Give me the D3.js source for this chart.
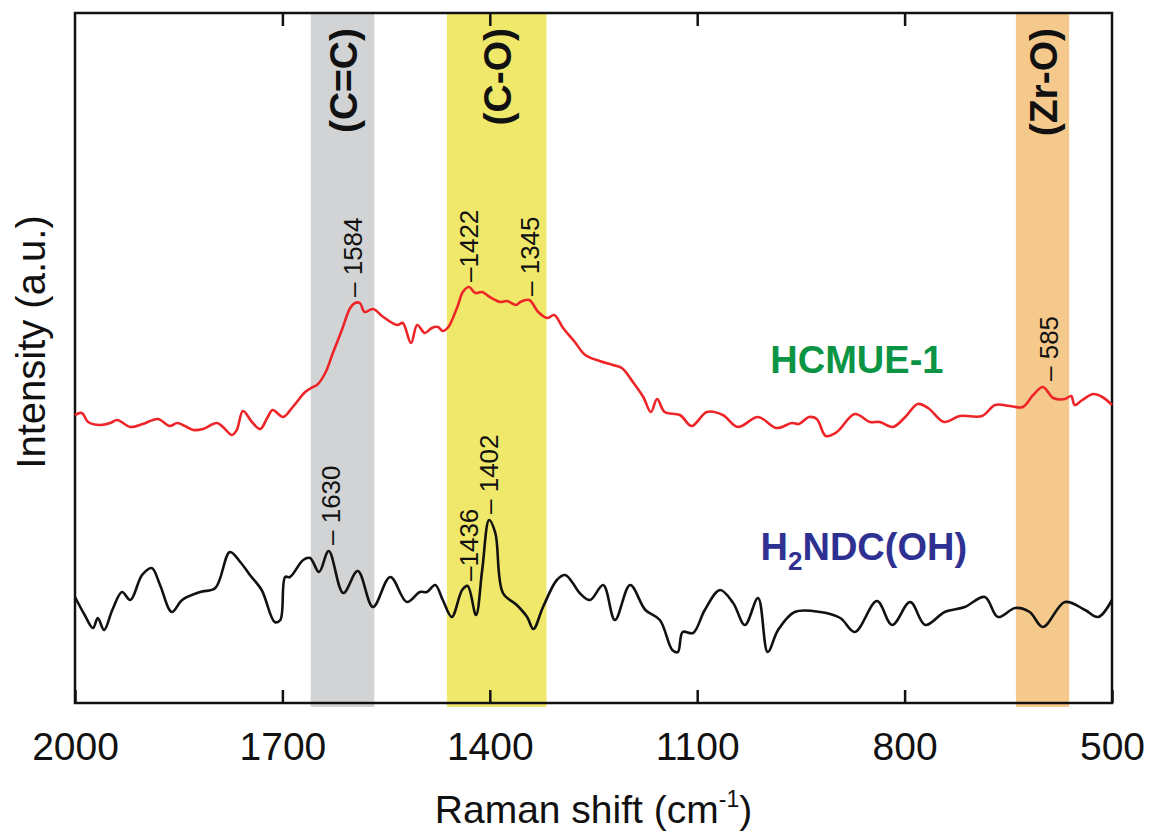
<!DOCTYPE html>
<html><head><meta charset="utf-8">
<script src="https://cdn.jsdelivr.net/npm/d3@7"></script>
<style>
body{margin:0;background:#fff}
svg{display:block}
text{font-family:"Liberation Sans",Arial,Helvetica,sans-serif}
</style>
</head><body>
<svg id="chart" width="1150" height="832"></svg>
<script>
// ---------------- data ----------------
const xTickValues = [2000, 1700, 1400, 1100, 800, 500];
const xLabel = "Raman shift (cm";
const yLabel = "Intensity (a.u.)";

// HCMUE-1 (red) spectrum: Raman shift (cm-1) and intensity (a.u.)
const redShift = [2000,1990,1981,1964,1949,1939,1920,1902,1880,1863,1852,1829,1815,1795,1786,1773,1766,1757,1744,1732,1722,1714,1699,1685,1667,1656,1650,1638,1627,1614,1602,1595,1588,1581,1569,1554,1534,1526,1514,1505,1494,1484,1475,1468,1460,1447,1439,1430,1421,1411,1400,1385,1375,1362,1356,1343,1330,1317,1307,1294,1277,1262,1241,1222,1209,1193,1178,1167,1158,1147,1125,1108,1086,1063,1041,1012,985,963,953,938,927,914,898,872,850,836,817,799,781,766,743,720,688,669,648,629,614,600,585,568,559,554,543,527,514,500];
const redInt   = [288,290,281,278,280,283,276,279,284,277,280,273,274,280,276,268,273,292,281,274,285,293,286,296,311,316,318,330,350,373,395,400,400,391,394,386,378,380,360,378,370,375,376,372,376,396,411,416,410,411,406,401,402,398,401,403,391,385,388,375,361,348,342,338,335,321,306,291,304,291,288,277,291,288,276,286,275,280,279,286,284,267,271,289,281,281,276,286,299,295,281,287,287,298,297,296,308,316,305,304,307,298,303,309,306,298];

// H2NDC(OH) (black) spectrum
const blackShift = [2000,1986,1974,1967,1958,1946,1932,1920,1903,1889,1877,1860,1845,1819,1797,1776,1761,1747,1730,1711,1703,1696,1689,1670,1660,1647,1633,1612,1591,1569,1544,1520,1501,1491,1479,1468,1455,1440,1432,1420,1411,1401,1392,1381,1361,1346,1337,1323,1303,1291,1280,1270,1255,1236,1219,1197,1175,1154,1136,1128,1121,1106,1089,1067,1048,1031,1012,998,983,959,922,893,872,840,818,792,770,742,713,684,665,640,619,600,568,539,520,500];
const blackInt   = [106,88,75,85,73,93,111,103,128,135,118,91,103,111,115,151,141,128,113,81,83,126,126,143,145,131,152,110,132,96,126,101,111,111,118,103,86,113,117,88,133,183,170,110,98,86,74,96,123,128,120,110,103,118,83,118,93,83,53,51,71,70,93,113,100,78,105,51,73,91,91,85,71,102,78,101,78,91,96,106,86,95,91,76,101,93,86,103];

// shaded assignment bands (Raman shift ranges)
const bandNames = ["(C=C)", "(C-O)", "(Zr-O)"];
const bandFrom  = [1659, 1462, 639];
const bandTo    = [1567, 1318, 562];

// peak annotations: text, shift position, intensity where the label starts
const peakText  = ["– 1584", "–1422", "– 1345", "– 585", "– 1630", "–1436", "– 1402"];
const peakShift = [1598, 1431, 1342, 592, 1630, 1431, 1401];
const peakBase  = [406, 421, 407, 322, 158, 122, 189];

// series labels
const seriesNames = ["HCMUE-1", "H2NDC(OH)"];
const seriesLabelShift = [869, 859];
const seriesLabelInt   = [330, 143];

// ---------------- drawing ----------------
const svg = d3.select("#chart");
const mL = 75, mR = 1112, mT = 13, mB = 703;
const x = d3.scaleLinear().domain([2000, 500]).range([mL, mR]);
const y = d3.scaleLinear().domain([0, 690]).range([mB, mT]);

const bandColors = ["#d1d3d4", "#f0e86a", "#f5c98c"];
const seriesColors = ["#0b9444", "#2e3192"];

// bands
svg.append("g").selectAll("rect").data(bandNames).join("rect")
  .attr("x", (d,i) => x(bandFrom[i]))
  .attr("width", (d,i) => x(bandTo[i]) - x(bandFrom[i]))
  .attr("y", mT).attr("height", mB - mT + 4)
  .attr("fill", (d,i) => bandColors[i]);

// band labels
svg.append("g").selectAll("text").data(bandNames).join("text")
  .attr("transform", (d,i) => `translate(${x((bandFrom[i]+bandTo[i])/2)},28) rotate(-90)`)
  .attr("text-anchor", "end").attr("dy", "0.36em")
  .attr("font-size", 39).attr("font-weight", "bold").attr("fill", "#111")
  .text(d => d);

// axes
const axB = d3.axisBottom(x).tickValues(xTickValues).tickSize(-13).tickPadding(29).tickFormat(d3.format("d"));
const gB = svg.append("g").attr("transform", `translate(0,${mB})`).call(axB);
gB.select(".domain").remove();
gB.selectAll("line").attr("stroke", "#111").attr("stroke-width", 2.5);
gB.selectAll("text").attr("font-size", 39).attr("fill", "#111").style("font-family", "Liberation Sans, Arial, sans-serif");

const axT = d3.axisTop(x).tickValues(xTickValues.slice(1, -1)).tickSize(-13).tickFormat("");
const gT = svg.append("g").attr("transform", `translate(0,${mT})`).call(axT);
gT.select(".domain").remove();
gT.selectAll("line").attr("stroke", "#111").attr("stroke-width", 2.5);

// frame
svg.append("rect").attr("x", mL).attr("y", mT).attr("width", mR - mL).attr("height", mB - mT)
  .attr("fill", "none").attr("stroke", "#111").attr("stroke-width", 2.5);

// curves
const line = d3.line().x(d => x(d[0])).y(d => y(d[1])).curve(d3.curveCatmullRom.alpha(0.5));
svg.append("path").datum(redShift.map((s,i) => [s, redInt[i]]))
  .attr("d", line).attr("fill", "none").attr("stroke", "#ee2528").attr("stroke-width", 2.6)
  .attr("stroke-linejoin", "round");
svg.append("path").datum(blackShift.map((s,i) => [s, blackInt[i]]))
  .attr("d", line).attr("fill", "none").attr("stroke", "#111").attr("stroke-width", 2.6)
  .attr("stroke-linejoin", "round");

// peak labels
svg.append("g").selectAll("text").data(peakText).join("text")
  .attr("transform", (d,i) => `translate(${x(peakShift[i])},${y(peakBase[i])}) rotate(-90)`)
  .attr("text-anchor", "start").attr("dy", "0.36em")
  .attr("font-size", 26).attr("fill", "#111")
  .text(d => d);

// series labels
svg.append("text")
  .attr("x", x(seriesLabelShift[0])).attr("y", y(seriesLabelInt[0]))
  .attr("text-anchor", "middle").attr("font-size", 38).attr("font-weight", "bold")
  .attr("fill", seriesColors[0]).text(seriesNames[0]);
const t2 = svg.append("text")
  .attr("x", x(seriesLabelShift[1])).attr("y", y(seriesLabelInt[1]))
  .attr("text-anchor", "middle").attr("font-size", 38).attr("font-weight", "bold")
  .attr("fill", seriesColors[1]);
t2.append("tspan").text(seriesNames[1].slice(0,1));
t2.append("tspan").attr("font-size", 26).attr("dy", 10).text(seriesNames[1].slice(1,2));
t2.append("tspan").attr("dy", -10).text(seriesNames[1].slice(2));

// axis titles
const xt = svg.append("text")
  .attr("x", (mL + mR) / 2).attr("y", 823)
  .attr("text-anchor", "middle").attr("font-size", 39).attr("fill", "#111");
xt.append("tspan").text(xLabel);
xt.append("tspan").attr("font-size", 23).attr("dy", -16).text("-1");
xt.append("tspan").attr("dy", 16).text(")");

svg.append("text")
  .attr("transform", `translate(45,${(mT + mB) / 2 - 16}) rotate(-90)`)
  .attr("text-anchor", "middle").attr("font-size", 40).attr("fill", "#111")
  .text(yLabel);
</script>
</body></html>
